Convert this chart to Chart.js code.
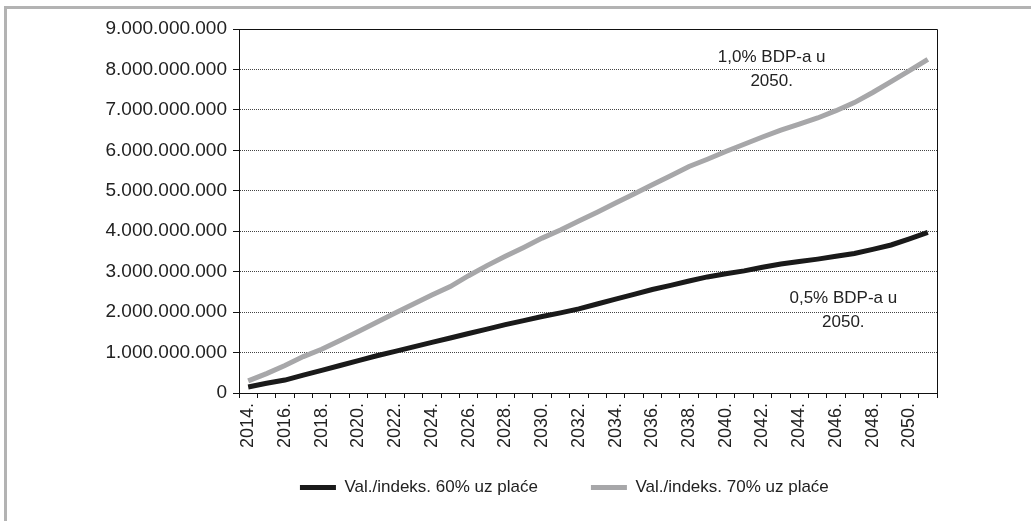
<!DOCTYPE html>
<html>
<head>
<meta charset="utf-8">
<script src="https://cdn.jsdelivr.net/npm/chart.js@4.4.1/dist/chart.umd.min.js"></script>
<style>
  html,body{margin:0;padding:0;background:#fff;overflow:hidden;}
  #frame{position:absolute;left:4px;top:6px;width:1100px;height:600px;border-left:3px solid #b3b3b3;border-top:3px solid #b3b3b3;}
  #c{position:absolute;left:0;top:0;}
</style>
</head>
<body>
<div id="frame"></div>
<canvas id="c" width="1031" height="521"></canvas>
<script>
const years = [];
for (let y = 2014; y <= 2051; y++) years.push(y + '.');

// Val./indeks. 60% uz plaće (mlrd.)
const share60 = [0.15,0.24,0.32,0.44,0.56,0.68,0.80,0.92,1.03,1.14,
                 1.25,1.36,1.47,1.58,1.69,1.79,1.89,1.98,2.08,2.20,
                 2.32,2.44,2.56,2.66,2.77,2.87,2.95,3.02,3.11,3.19,
                 3.25,3.31,3.38,3.45,3.55,3.66,3.81,3.97];
// Val./indeks. 70% uz plaće (mlrd.)
const share70 = [0.30,0.48,0.68,0.90,1.08,1.30,1.52,1.75,1.98,2.20,
                 2.42,2.63,2.90,3.15,3.38,3.60,3.83,4.03,4.25,4.47,
                 4.70,4.92,5.15,5.37,5.60,5.78,5.97,6.15,6.33,6.50,
                 6.65,6.80,6.98,7.18,7.43,7.70,7.97,8.25];

const notes = [
  {lines:['1,0% BDP-a u','2050.'], at:28.5, val:8.3},
  {lines:['0,5% BDP-a u','2050.'], at:32.4, val:2.33}
];

const font = "'Liberation Sans', Arial, sans-serif";

const boxAndNotes = {
  id:'boxAndNotes',
  afterDraw(chart){
    const {ctx, chartArea:a, scales:{x, y}} = chart;
    ctx.save();
    ctx.strokeStyle = '#111';
    ctx.lineWidth = 1;
    ctx.beginPath();
    ctx.moveTo(a.left, a.top + 0.5);
    ctx.lineTo(a.right + 0.5, a.top + 0.5);
    ctx.lineTo(a.right + 0.5, a.bottom);
    ctx.stroke();
    ctx.fillStyle = '#222';
    ctx.font = '17px ' + font;
    ctx.textAlign = 'center';
    ctx.textBaseline = 'middle';
    notes.forEach(n => {
      const px = x.getPixelForValue(n.at);
      const py = y.getPixelForValue(n.val * 1e9);
      n.lines.forEach((t, i) => ctx.fillText(t, px, py + i * 24));
    });
    ctx.restore();
  }
};

// trailing spaces only widen the legend gaps to match the original spacing
const legendPad = ['       ', '          '];

new Chart(document.getElementById('c'), {
  type:'line',
  data:{
    labels:years,
    datasets:[
      {label:'Val./indeks. 60% uz plaće', data:share60.map(v => v * 1e9),
       borderColor:'#1a1a1a', backgroundColor:'#1a1a1a', borderWidth:5, pointRadius:0, tension:0},
      {label:'Val./indeks. 70% uz plaće', data:share70.map(v => v * 1e9),
       borderColor:'#a7a7a9', backgroundColor:'#a7a7a9', borderWidth:5, pointRadius:0, tension:0}
    ]
  },
  options:{
    responsive:false,
    animation:false,
    layout:{padding:{top:29, right:94, left:0, bottom:15}},
    plugins:{
      tooltip:{enabled:false},
      legend:{
        position:'bottom',
        fullSize:false,
        labels:{
          font:{family:font, size:17},
          color:'#222',
          boxWidth:36,
          boxHeight:5,
          padding:20,
          generateLabels(chart){
            return chart.data.datasets.map((d, i) => ({
              text:d.label + legendPad[i], fillStyle:d.borderColor, strokeStyle:d.borderColor,
              lineWidth:0, datasetIndex:i, fontColor:'#222'
            }));
          }
        }
      }
    },
    scales:{
      x:{
        offset:true,
        grid:{offset:true, drawOnChartArea:false, drawTicks:true, tickLength:5, color:'#111'},
        border:{color:'#111', width:1},
        ticks:{
          autoSkip:false, maxRotation:90, minRotation:90, padding:5,
          font:{family:font, size:18}, color:'#222',
          callback:(v, i) => i % 2 === 0 ? years[i] : ''
        },
        afterFit(s){ s.height = 66; }
      },
      y:{
        min:0, max:9e9,
        ticks:{
          stepSize:1e9, padding:6,
          font:{family:font, size:19}, color:'#222',
          callback:v => v === 0 ? '0' : v.toLocaleString('de-DE')
        },
        grid:{color:'#444', tickLength:6, tickColor:'#111', tickBorderDash:[]},
        border:{color:'#111', width:1, dash:[1,1]},
        afterFit(s){ s.width = 239; }
      }
    }
  },
  plugins:[boxAndNotes]
});
</script>
</body>
</html>
